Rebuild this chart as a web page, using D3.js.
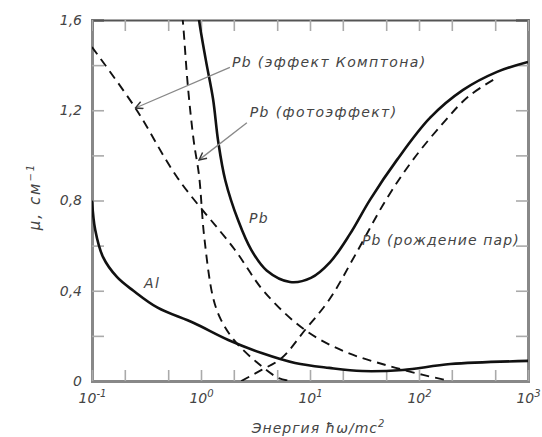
<!DOCTYPE html>
<html>
<head>
<meta charset="utf-8">
<script src="https://cdn.jsdelivr.net/npm/d3@7"></script>
<style>
  body { margin: 0; background: #fff; }
  text { font-family: "DejaVu Sans", sans-serif; font-style: italic; fill: #444; }
</style>
</head>
<body>
<svg id="chart" width="542" height="437"></svg>
<script>
// Values: energy in units of mc^2, mu in cm^-1
const pbTotalE  = [0.89, 0.96, 1.11, 1.29, 1.44, 1.67, 2.2, 2.9, 4.0, 6.56, 10.2, 15.3, 23.3, 35.5, 62.8, 126, 254, 520, 1000];
const pbTotalMu = [1.75, 1.60, 1.42, 1.25, 1.06, 0.89, 0.71, 0.58, 0.49, 0.439, 0.457, 0.527, 0.652, 0.803, 0.98, 1.166, 1.29, 1.37, 1.414];

const photoE  = [0.63, 0.68, 0.76, 0.86, 0.96, 1.07, 1.29, 1.53, 2.02, 3.23, 5.16, 6.8];
const photoMu = [1.75, 1.60, 1.30, 1.06, 0.91, 0.64, 0.37, 0.27, 0.18, 0.084, 0.013, 0];

const comptonE  = [0.1, 0.25, 0.61, 2.02, 3.83, 9.0, 21.1, 49.4, 109, 178];
const comptonMu = [1.48, 1.21, 0.90, 0.585, 0.394, 0.226, 0.129, 0.071, 0.027, 0.004];

const pairE  = [2.34, 3.6, 5.5, 9.0, 15, 26.1, 49.4, 87.9, 167, 282, 500];
const pairMu = [0, 0.049, 0.102, 0.226, 0.36, 0.56, 0.80, 0.98, 1.144, 1.26, 1.34];

const alE  = [0.1, 0.107, 0.126, 0.17, 0.24, 0.4, 0.86, 1.78, 3.6, 7.3, 15, 30, 71, 194, 1000];
const alMu = [0.80, 0.67, 0.55, 0.46, 0.40, 0.325, 0.257, 0.182, 0.124, 0.080, 0.058, 0.044, 0.049, 0.075, 0.089];

const yTicks = [0, 0.2, 0.4, 0.6, 0.8, 1.0, 1.2, 1.4, 1.6];
const yTickLabels = { 0: "0", 0.4: "0,4", 0.8: "0,8", 1.2: "1,2", 1.6: "1,6" };
const xTicks = [0.1, 0.2, 0.5, 1, 2, 5, 10, 20, 50, 100, 200, 500, 1000];
const xTickLabels = { 0.1: "-1", 1: "0", 10: "1", 100: "2", 1000: "3" };

const svg = d3.select("#chart"),
    margin = { top: 20, right: 14, bottom: 56, left: 92 },
    width = +svg.attr("width") - margin.left - margin.right,
    height = +svg.attr("height") - margin.top - margin.bottom,
    g = svg.append("g").attr("transform", `translate(${margin.left},${margin.top})`);

const x = d3.scaleLog().domain([0.1, 1000]).range([0, width]);
const y = d3.scaleLinear().domain([0, 1.6]).range([height, 0]);

const defs = svg.append("defs");
defs.append("clipPath").attr("id", "clip")
    .append("rect").attr("width", width).attr("height", height);

defs.append("marker")
    .attr("id", "arrow")
    .attr("viewBox", "0 0 10 10")
    .attr("refX", 9).attr("refY", 5)
    .attr("markerWidth", 7).attr("markerHeight", 7)
    .attr("orient", "auto")
    .append("path")
    .attr("d", "M1,1 L9,5 L1,9")
    .attr("fill", "none")
    .attr("stroke", "#333")
    .attr("stroke-width", 1.6);

// Axes: ticks pointing inwards on all four sides
const axLeft = g.append("g")
    .call(d3.axisLeft(y).tickValues(yTicks).tickSize(-12).tickPadding(10)
        .tickFormat(d => yTickLabels[d] || ""));
const axRight = g.append("g").attr("transform", `translate(${width},0)`)
    .call(d3.axisRight(y).tickValues(yTicks).tickSize(-12).tickFormat(""));
const axBottom = g.append("g").attr("transform", `translate(0,${height})`)
    .call(d3.axisBottom(x).tickValues(xTicks).tickSize(-11).tickPadding(10).tickFormat(""));
const axTop = g.append("g")
    .call(d3.axisTop(x).tickValues(xTicks).tickSize(-11).tickFormat(""));

[axLeft, axRight, axBottom, axTop].forEach(a => {
    a.selectAll(".tick line").attr("stroke", "#aaa").attr("stroke-width", 1.6);
    a.select(".domain").attr("stroke", "#888").attr("stroke-width", 3);
});
axTop.select(".domain").attr("stroke", "#555").attr("stroke-width", 2);
axLeft.selectAll("text").style("font-size", "14px").attr("font-family", null);

// decade labels 10^n
axBottom.selectAll(".tick").filter(d => xTickLabels[d] !== undefined)
    .append("text")
    .attr("y", 22)
    .attr("text-anchor", "middle")
    .style("font-size", "14px")
    .each(function(d) {
        const t = d3.select(this);
        t.append("tspan").text("10");
        t.append("tspan").attr("dy", -6).style("font-size", "10px").text(xTickLabels[d]);
    });

// Axis titles
g.append("text")
    .attr("transform", "rotate(-90)")
    .attr("x", -height / 2 + 4)
    .attr("y", -52)
    .attr("text-anchor", "middle")
    .style("font-size", "15px")
    .style("letter-spacing", "2px")
    .html("μ, см<tspan dy='-6' font-size='10px'>−1</tspan>");

g.append("text")
    .attr("x", x(12))
    .attr("y", height + 52)
    .attr("text-anchor", "middle")
    .style("font-size", "14px")
    .style("letter-spacing", "1px")
    .html("Энергия ħω/mc<tspan dy='-6' font-size='10px'>2</tspan>");

// Curves
const line = d3.line()
    .x(d => x(d[0]))
    .y(d => y(d[1]))
    .curve(d3.curveCatmullRom.alpha(0.5));

const curves = [
    { e: pbTotalE, mu: pbTotalMu, dash: null, w: 2.6 },
    { e: alE, mu: alMu, dash: null, w: 2.6 },
    { e: photoE, mu: photoMu, dash: "9,6", w: 1.9 },
    { e: comptonE, mu: comptonMu, dash: "9,6", w: 1.9 },
    { e: pairE, mu: pairMu, dash: "9,6", w: 1.9 }
];

const plot = g.append("g").attr("clip-path", "url(#clip)");
curves.forEach(c => {
    plot.append("path")
        .datum(d3.zip(c.e, c.mu))
        .attr("d", line)
        .attr("fill", "none")
        .attr("stroke", "#111")
        .attr("stroke-width", c.w)
        .attr("stroke-dasharray", c.dash);
});

// Labels with leader lines (positions in data units)
const notes = [
    { text: "Pb (эффект Комптона)", tx: 1.92, ty: 1.392, lx: [1.92, 0.25], ly: [1.39, 1.21] },
    { text: "Pb (фотоэффект)", tx: 2.8, ty: 1.17, lx: [2.75, 0.96], ly: [1.145, 0.98] },
    { text: "Pb (рождение пар)", tx: 30, ty: 0.603 },
    { text: "Pb", tx: 2.75, ty: 0.70 },
    { text: "Al", tx: 0.3, ty: 0.41 }
];

notes.forEach(n => {
    if (n.lx) {
        g.append("line")
            .attr("x1", x(n.lx[0]) - 2).attr("y1", y(n.ly[0]))
            .attr("x2", x(n.lx[1])).attr("y2", y(n.ly[1]))
            .attr("stroke", "#888")
            .attr("stroke-width", 1.3)
            .attr("marker-end", "url(#arrow)");
    }
    g.append("text")
        .attr("x", x(n.tx))
        .attr("y", y(n.ty))
        .style("font-size", "14px")
        .style("letter-spacing", n.text.length > 16 && n.tx > 10 ? "1.1px" : "1.4px")
        .text(n.text);
});
</script>
</body>
</html>
